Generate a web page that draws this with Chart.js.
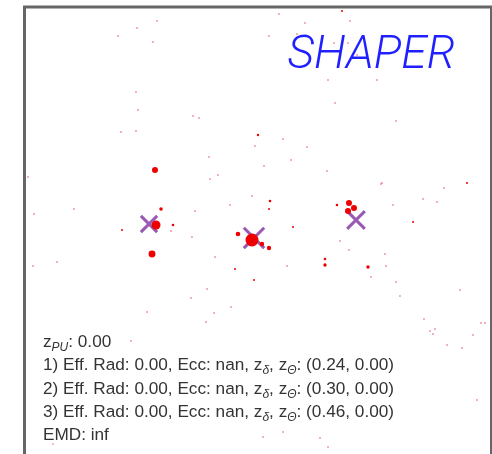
<!DOCTYPE html>
<html>
<head>
<meta charset="utf-8">
<script src="https://cdn.jsdelivr.net/npm/chart.js@4/dist/chart.umd.min.js"></script>
<style>
  html, body { margin: 0; padding: 0; background: #fff; overflow: hidden; }
  #wrap { width: 492px; height: 454px; overflow: hidden; }
  canvas { display: block; }
</style>
</head>
<body>
<div id="wrap"><canvas id="c" width="492" height="480"></canvas></div>
<script>
// Particle positions in the unit square (x, y) and their energies.
const particleX = [0.2805, 0.2934, 0.2827, 0.2741, 0.3191, 0.2099, 0.4882, 0.4582, 0.5096, 0.5246,
                   0.5268, 0.5246, 0.5760, 0.6959, 0.7066, 0.6938, 0.6702, 0.6445, 0.6445, 0.7366,
                   0.5011, 0.4518, 0.4925, 0.8330, 0.9486, 0.6809];
const particleY = [0.6500, 0.5665, 0.5322, 0.4700, 0.5322, 0.5215, 0.5000, 0.5129, 0.4914, 0.4828,
                   0.5837, 0.5665, 0.5279, 0.5794, 0.5687, 0.5622, 0.5751, 0.4592, 0.4464, 0.4421,
                   0.7253, 0.4378, 0.4142, 0.5386, 0.6223, 0.9914];
const particleE = [9, 3.2, 20, 12, 1.7, 1, 42, 5.3, 4.8, 4.8,
                   1.7, 1, 1, 9, 9, 9, 1.7, 1.7, 2.9, 2.9,
                   1.4, 1, 1, 1, 1, 1];

// Soft, low-energy deposits.
const softX = [0.2848, 0.2420, 0.2013, 0.2762, 0.2398, 0.2441, 0.3619, 0.3747, 0.2077, 0.2398,
               0.5460, 0.6981, 0.6017, 0.5246, 0.5846, 0.6638, 0.6938, 0.7131, 0.6510, 0.7559,
               0.6660, 0.7966, 0.5546, 0.4946, 0.6060, 0.0086, 0.0214, 0.1071, 0.0193, 0.0707,
               0.3148, 0.3597, 0.3662, 0.3961, 0.4154, 0.3983, 0.4882, 0.5139, 0.5717, 0.4411,
               0.4090, 0.5632, 0.6488, 0.7645, 0.7901, 0.6767, 0.6959, 0.7730, 0.7666, 0.8994,
               0.8544, 0.8844, 0.7752, 0.7966, 0.8051, 0.9336, 0.8565, 0.3919, 0.3576, 0.2634,
               0.4069, 0.4433, 0.3897, 0.7430, 0.8694, 0.8801, 0.8758, 0.9786, 0.9872, 0.2291,
               0.9058, 0.9379, 0.9615, 0.9700, 0.5546, 0.6338, 0.6510, 0.5118, 0.0621];
const softY = [0.9700, 0.9549, 0.9378, 0.9249, 0.8176, 0.7790, 0.7661, 0.7618, 0.7318, 0.7339,
               0.9850, 0.9700, 0.9657, 0.9378, 0.9421, 0.9227, 0.9227, 0.8970, 0.8433, 0.8433,
               0.7940, 0.7554, 0.7167, 0.7017, 0.6996, 0.6352, 0.5558, 0.5665, 0.4442, 0.4528,
               0.5193, 0.5064, 0.5622, 0.6781, 0.6395, 0.6309, 0.5944, 0.6588, 0.6717, 0.5751,
               0.4635, 0.4442, 0.6481, 0.6202, 0.5751, 0.4979, 0.4785, 0.4700, 0.6223, 0.6116,
               0.5880, 0.5815, 0.4442, 0.4099, 0.3798, 0.3927, 0.3305, 0.3948, 0.3755, 0.3455,
               0.3433, 0.3562, 0.3240, 0.4206, 0.3047, 0.3090, 0.2983, 0.3219, 0.3219, 0.2833,
               0.2747, 0.2682, 0.2961, 0.1567, 0.0880, 0.0751, 0.0558, 0.0773, 0.0621];

// Jet centres found by the shape fit and their weights.
const centerX = [0.2677, 0.4925, 0.7109];
const centerY = [0.5343, 0.5043, 0.5429];
const centerW = [0.36, 0.45, 0.39];

// Annotation values.
const zPU = 0.00;
const effRad = [0.00, 0.00, 0.00];
const ecc = ['nan', 'nan', 'nan'];
const zDelta = [0.24, 0.30, 0.46];
const zTheta = [0.00, 0.00, 0.00];
const emd = 'inf';
const titleText = 'SHAPER';

const pts = (xs, ys, extra) => xs.map((x, i) => Object.assign({ x: x, y: ys[i] }, extra ? extra(i) : {}));

const framePlugin = {
  id: 'frame',
  afterDraw(chart) {
    const { ctx, chartArea: a } = chart;
    ctx.save();
    ctx.strokeStyle = '#666666';
    ctx.lineWidth = 3;
    ctx.strokeRect(a.left + 0.5, a.top, a.right - a.left, a.bottom - a.top);
    ctx.restore();
  }
};

const labelPlugin = {
  id: 'labels',
  afterDraw(chart) {
    const { ctx } = chart;
    ctx.save();
    // Title
    ctx.fillStyle = '#1f1fff';
    ctx.font = 'italic 300 46px Roboto';
    ctx.textBaseline = 'alphabetic';
    ctx.textAlign = 'right';
    ctx.fillText(titleText, 455, 68);

    // Summary lines with sub-scripted symbols
    ctx.textAlign = 'left';
    const main = '17.2px "Liberation Sans", Arial, sans-serif';
    const sub = 'italic 12px "Liberation Sans", Arial, sans-serif';
    const drawRuns = (runs, x, y) => {
      for (const r of runs) {
        ctx.font = r.s ? sub : main;
        const yy = r.s ? y + 4 : y;
        ctx.fillText(r.t, x, yy);
        x += ctx.measureText(r.t).width;
      }
    };
    ctx.fillStyle = '#333333';
    const x0 = 43, lh = 23.3;
    let y = 347;
    drawRuns([{ t: 'z' }, { t: 'PU', s: 1 }, { t: ': ' + zPU.toFixed(2) }], x0, y);
    for (let i = 0; i < zDelta.length; i++) {
      y += lh;
      drawRuns([
        { t: (i + 1) + ') Eff. Rad: ' + effRad[i].toFixed(2) + ', Ecc: ' + ecc[i] + ', z' },
        { t: 'δ', s: 1 }, { t: ', z' }, { t: 'Θ', s: 1 },
        { t: ': (' + zDelta[i].toFixed(2) + ', ' + zTheta[i].toFixed(2) + ')' }
      ], x0, y);
    }
    y += lh;
    drawRuns([{ t: 'EMD: ' + emd }], x0, y);
    ctx.restore();
  }
};

new Chart(document.getElementById('c'), {
  type: 'scatter',
  data: {
    datasets: [
      {
        label: 'particles',
        order: 0,
        data: pts(particleX, particleY, i => ({ e: particleE[i] })),
        pointStyle: 'circle',
        backgroundColor: '#ee0000',
        borderWidth: 0,
        pointRadius: ctx => (ctx.raw ? Math.sqrt(ctx.raw.e) : 1)
      },
      {
        label: 'centres',
        order: 1,
        data: pts(centerX, centerY, i => ({ w: centerW[i] })),
        pointStyle: 'crossRot',
        borderColor: '#9b59b6',
        backgroundColor: '#9b59b6',
        borderWidth: 3,
        pointRadius: ctx => (ctx.raw ? ctx.raw.w * 32 : 10)
      },
      {
        label: 'soft',
        order: 2,
        data: pts(softX, softY),
        pointStyle: 'circle',
        backgroundColor: 'rgba(215,0,40,0.45)',
        borderWidth: 0,
        pointRadius: 0.9
      }
    ]
  },
  options: {
    responsive: false,
    animation: false,
    events: [],
    layout: { autoPadding: false, padding: { left: 24, top: 7, right: 1, bottom: 7 } },
    scales: {
      x: { type: 'linear', min: 0, max: 1, display: false },
      y: { type: 'linear', min: 0, max: 1, display: false }
    },
    plugins: {
      legend: { display: false },
      tooltip: { enabled: false },
      title: { display: false }
    }
  },
  plugins: [framePlugin, labelPlugin]
});
</script>
</body>
</html>
